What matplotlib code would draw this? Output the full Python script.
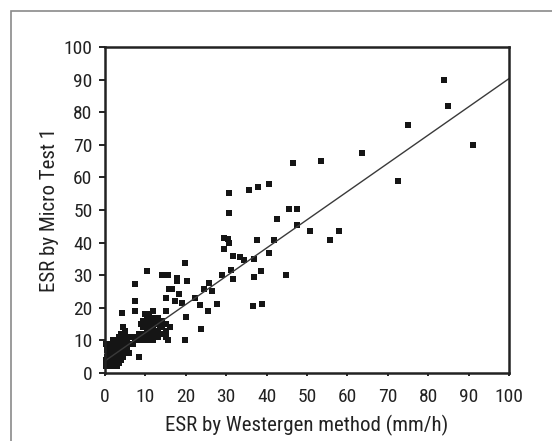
import matplotlib.pyplot as plt
from matplotlib.patches import Rectangle

# --- data ---
# scattered points (Westergren x, Micro Test 1 y)
x_sparse = [84, 85, 91, 75, 72.5, 63.5, 53.5, 46.5, 45.5, 47.5, 47.5, 50.8, 55.8, 57.8,
            42.6, 44.7, 41.8, 40.7, 40.7, 37.8, 35.6, 30.6, 30.6, 29.5, 30.4, 30.8, 29.5,
            31.7, 33.4, 34.3, 37.7, 36.8, 36.8, 38.7, 36.6, 38.9, 29, 31.3, 31.7, 25.7,
            26.4, 24.5, 23.4, 23.8, 25.6, 27.8, 20.1, 19.9, 19.9, 20.3, 22.2, 18.3, 19,
            17.3, 17.7, 17.7, 14.2, 15.5, 15.8, 16.6, 15.1, 15.1, 15.5, 10.5, 7.4, 7.4,
            7.4, 4.3, 8.3]
y_sparse = [90, 82, 70, 76, 59, 67.5, 65, 64.5, 50.3, 50.3, 45.4, 43.5, 40.7, 43.5,
            47.2, 30.1, 40.7, 36.9, 57.9, 57.2, 56, 55.2, 49.1, 41.4, 41, 40, 38,
            36, 35.6, 34.8, 40.7, 35, 29.3, 31.3, 20.4, 21.1, 30.1, 31.6, 28.7, 27.5,
            25.1, 25.7, 20.9, 13.4, 19, 21.1, 17.3, 10, 33.8, 28.2, 23.1, 24.1, 21.6,
            22.1, 29.2, 28.2, 30.2, 30.2, 25.9, 25.7, 23.1, 19, 10.2, 31.3, 27.2, 22.1,
            19, 18.5, 5]

# dense cluster near the origin
x_low = [0.3, 0.3, 0.3, 0.5, 0.5, 1, 1, 1, 1, 1.5, 1.5, 1.5, 2, 2, 2, 2, 2.5, 2.5, 2.5,
         3, 3, 3, 3, 3, 3.5, 3.5, 3.5, 4, 4, 4, 4, 4.5, 4.5, 4.5, 5, 5, 5, 5, 5.5, 5.5,
         6, 6, 6.5, 7, 7.5, 8, 8.5, 1.5, 2.5, 3.5]
y_low = [2, 4, 9, 5, 7, 2, 4, 6, 8, 3, 7, 9, 2, 5, 7, 10, 4, 6, 8,
         2, 5, 7, 9, 10, 3, 6, 8, 4, 7, 10, 12, 5, 9, 14, 6, 8, 11, 13, 7, 10,
         6, 9, 11, 9, 10, 11, 12, 5, 10, 11]

# dense cluster around x=10..15
x_mid = [9, 9, 9, 9, 9.5, 9.5, 9.5, 10, 10, 10, 10, 10, 10.5, 10.5, 10.5, 10.5, 11, 11,
         11, 11, 11, 11.5, 11.5, 11.5, 11.5, 12, 12, 12, 12, 12, 12.5, 12.5, 12.5, 12.5,
         13, 13, 13, 13, 13.5, 13.5, 14, 14, 14, 14.5, 15, 15, 15, 16]
y_mid = [10, 11, 12, 15, 12, 14, 16, 10, 12, 14, 16, 18, 11, 13, 15, 17, 10, 12,
         14, 16, 18, 11, 13, 15, 17, 10, 12, 14, 16, 19, 11, 13, 15, 17,
         11, 13, 15, 17, 12, 14, 12, 14, 16, 15, 11, 13, 15, 14]

# regression line end points
fit_x = [0, 100]
fit_y = [3.7, 90.3]

ticks = list(range(0, 101, 10))

plt.rcParams['font.family'] = ['Roboto Condensed', 'DejaVu Sans']

fig = plt.figure(figsize=(5.52, 4.41), dpi=100)
ax = fig.add_axes([105 / 552, 1 - 373 / 441, 404 / 552, 326 / 441])

# outer grey frame (cropped at right/bottom)
fig.patches.append(Rectangle((10.5 / 552, -0.1), 1.2, 1 - 11 / 441 + 0.1,
                             transform=fig.transFigure, fill=False,
                             edgecolor='#8a8a8a', linewidth=1.2))

ms = 3.9
for xs, ys in [(x_sparse, y_sparse), (x_low, y_low), (x_mid, y_mid)]:
    ax.plot(xs, ys, 's', color='#151515', markersize=ms, markeredgewidth=0,
            clip_on=False)
ax.plot(fit_x, fit_y, color='#3a3a3a', linewidth=1.0)

ax.set_xlim(0, 100)
ax.set_ylim(0, 100)
ax.set_xticks(ticks)
ax.set_yticks(ticks)
ax.tick_params(axis='y', direction='out', length=4, width=1.4, labelsize=14,
               colors='#222222', pad=5)
ax.tick_params(axis='x', direction='out', length=2, width=1.4, labelsize=14,
               colors='#222222', pad=9)
for s in ax.spines.values():
    s.set_linewidth(1.8)
    s.set_color('#222222')

ax.set_xlabel('ESR by Westergen method (mm/h)', fontsize=15, color='#222222', labelpad=6)
ax.set_ylabel('ESR by Micro Test 1', fontsize=15, color='#222222', labelpad=3)

fig.savefig('out.png', dpi=100)
